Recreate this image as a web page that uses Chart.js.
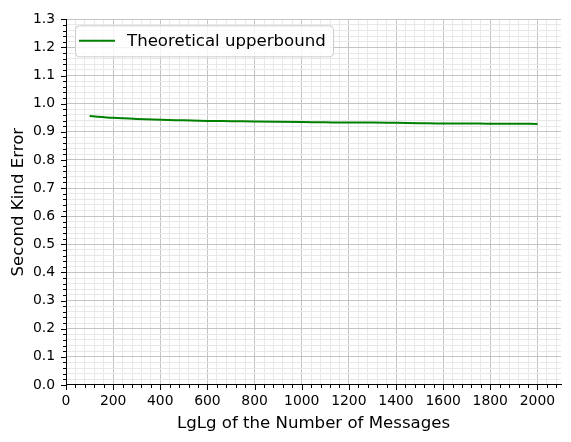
<!DOCTYPE html>
<html>
<head>
<meta charset="utf-8">
<script src="https://cdn.jsdelivr.net/npm/chart.js@4.4.1/dist/chart.umd.min.js"></script>
<style>
  html, body { margin: 0; padding: 0; background: #fff; }
  canvas { display: block; }
</style>
</head>
<body>
<canvas id="errChart" width="571" height="442"></canvas>
<script>
// values
const xValues = [100, 200, 300, 400, 500, 600, 700, 800, 900, 1000,
                 1100, 1200, 1300, 1400, 1500, 1600, 1700, 1800, 1900, 2000];
const upperbound = [0.956, 0.950, 0.946, 0.943, 0.941, 0.939, 0.938, 0.937, 0.936, 0.935,
                    0.934, 0.933, 0.933, 0.932, 0.931, 0.930, 0.930, 0.929, 0.929, 0.928];
const seriesLabel = 'Theoretical upperbound';

const xMajorTicks = [0, 200, 400, 600, 800, 1000, 1200, 1400, 1600, 1800, 2000];
const yMajorTicks = [0, 0.1, 0.2, 0.3, 0.4, 0.5, 0.6, 0.7, 0.8, 0.9, 1.0, 1.1, 1.2, 1.3];
const xMinorStep = 40;
const yMinorStep = 0.02;
const xMax = 2100;
const yMax = 1.3;

const FONT = "'DejaVu Sans', sans-serif";
const GREEN = '#008000';
const MAJOR_GRID = '#c4c4c4';
const MINOR_GRID = '#e8e8e8';

function isMajor(v, majors) {
  return majors.some(m => Math.abs(m - v) < 1e-6);
}

// minor tick positions (major ones included)
const xAllTicks = [];
for (let v = 0; v < xMax; v += xMinorStep) xAllTicks.push(v);
const yAllTicks = [];
for (let i = 0; i * yMinorStep <= yMax + 1e-9; i++) yAllTicks.push(Math.round(i * yMinorStep * 100) / 100);

// tick marks outside the axes, major longer than minor
const tickMarks = {
  id: 'tickMarks',
  afterDraw(chart) {
    const ctx = chart.ctx;
    const xs = chart.scales.x, ys = chart.scales.y;
    ctx.save();
    ctx.strokeStyle = '#000';
    ctx.lineWidth = 1;
    xs.ticks.forEach(t => {
      const px = Math.round(xs.getPixelForValue(t.value)) + 0.5;
      const len = isMajor(t.value, xMajorTicks) ? 5 : 3;
      ctx.beginPath();
      ctx.moveTo(px, xs.top);
      ctx.lineTo(px, xs.top + len);
      ctx.stroke();
    });
    ys.ticks.forEach(t => {
      const py = Math.round(ys.getPixelForValue(t.value)) + 0.5;
      const len = isMajor(t.value, yMajorTicks) ? 5 : 3;
      ctx.beginPath();
      ctx.moveTo(ys.right, py);
      ctx.lineTo(ys.right - len, py);
      ctx.stroke();
    });
    ctx.restore();
  }
};

// matplotlib-like legend box in the upper left corner
const boxLegend = {
  id: 'boxLegend',
  afterDatasetsDraw(chart) {
    const ctx = chart.ctx;
    const a = chart.chartArea;
    const ds = chart.data.datasets[0];
    const x = a.left + 9, y = a.top + 6, w = 258, h = 31, r = 4;
    ctx.save();
    ctx.beginPath();
    ctx.roundRect(x + 0.5, y + 0.5, w, h, r);
    ctx.fillStyle = 'rgba(255,255,255,0.8)';
    ctx.fill();
    ctx.strokeStyle = '#cccccc';
    ctx.lineWidth = 1;
    ctx.stroke();
    ctx.strokeStyle = ds.borderColor;
    ctx.lineWidth = 2;
    ctx.beginPath();
    ctx.moveTo(x + 4, y + h / 2);
    ctx.lineTo(x + 40, y + h / 2);
    ctx.stroke();
    ctx.fillStyle = '#000';
    ctx.font = '16.6px ' + FONT;
    ctx.textBaseline = 'middle';
    ctx.fillText(ds.label, x + 52, y + h / 2 + 1);
    ctx.restore();
  }
};

new Chart(document.getElementById('errChart').getContext('2d'), {
  type: 'line',
  data: {
    datasets: [{
      label: seriesLabel,
      data: xValues.map((x, i) => ({ x, y: upperbound[i] })),
      borderColor: GREEN,
      backgroundColor: GREEN,
      borderWidth: 2,
      pointRadius: 0,
      fill: false,
      cubicInterpolationMode: 'monotone'
    }]
  },
  options: {
    responsive: false,
    animation: false,
    layout: { padding: { top: 16, right: 10, left: 0, bottom: 0 } },
    plugins: {
      legend: { display: false },
      tooltip: { enabled: false }
    },
    scales: {
      x: {
        type: 'linear',
        min: 0,
        max: xMax,
        afterBuildTicks: s => { s.ticks = xAllTicks.map(v => ({ value: v })); },
        afterFit: s => { s.height = 57; },
        ticks: {
          autoSkip: false,
          maxRotation: 0,
          padding: 8,
          color: '#000',
          font: { family: FONT, size: 13.9 },
          callback: v => isMajor(v, xMajorTicks) ? String(v) : ''
        },
        grid: {
          drawTicks: false,
          lineWidth: 1,
          color: c => isMajor(c.tick.value, xMajorTicks) ? MAJOR_GRID : MINOR_GRID
        },
        border: { color: '#000', width: 1 },
        title: {
          display: true,
          text: 'LgLg of the Number of Messages',
          color: '#000',
          font: { family: FONT, size: 16.6 },
          padding: { top: 0, bottom: 8 }
        }
      },
      y: {
        type: 'linear',
        min: 0,
        max: yMax,
        afterBuildTicks: s => { s.ticks = yAllTicks.map(v => ({ value: v })); },
        afterFit: s => { s.width = 66; },
        ticks: {
          autoSkip: false,
          padding: 11,
          color: '#000',
          font: { family: FONT, size: 13.9 },
          callback: v => isMajor(v, yMajorTicks) ? v.toFixed(1) : ''
        },
        grid: {
          drawTicks: false,
          lineWidth: 1,
          color: c => isMajor(c.tick.value, yMajorTicks) ? MAJOR_GRID : MINOR_GRID
        },
        border: { color: '#000', width: 1 },
        title: {
          display: true,
          text: 'Second Kind Error',
          color: '#000',
          font: { family: FONT, size: 16.6 },
          padding: { top: 9, bottom: 0 }
        }
      }
    }
  },
  plugins: [tickMarks, boxLegend]
});
</script>
</body>
</html>
